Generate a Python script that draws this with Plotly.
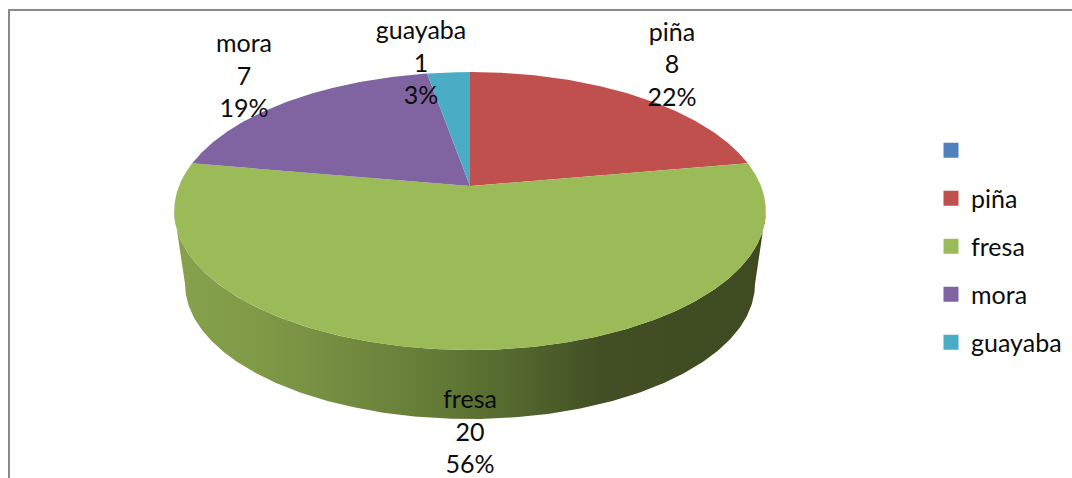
import numpy as np
import plotly.graph_objects as go

# --- data ---
categories = ["", "piña", "fresa", "mora", "guayaba"]
values = [0, 8, 20, 7, 1]
colors = ["#4f81bd", "#c0504d", "#9bbb59", "#8064a2", "#4bacc6"]

# --- geometry of the tilted disc, in the pixel-sized axes below ---
W, H = 1072, 478
CX, CY = 470, 186      # apex
SX, SY, K = 291, 134.5, 0.18   # perspective of the top disc
BOT_CX, BOT_CY, BOT_RX, BOT_RY = 470, 284, 285, 135  # lower rim of the wall
WALL_STOPS = [(0.0, "#87a24c"), (0.15, "#7f9947"), (0.3, "#728a3f"), (0.45, "#627a36"),
              (0.6, "#50642c"), (0.72, "#424f24"), (1.0, "#3e4a20")]
FONT = "Lato"
FS = 25
INK = "#0c0c0c"
LABEL_POS = {"piña": (672, 67), "fresa": (470, 434.5), "mora": (244, 78.5), "guayaba": (421, 65.5)}


def rim(theta):
    """Project a clockwise-from-top angle on the disc to the axes."""
    X, Y = np.sin(theta), np.cos(theta)
    d = 1 + K * Y
    return CX + SX * X / d, CY - SY * Y / d


total = sum(values)
fig = go.Figure()

# wall: front half of the top rim (right to left), closed along the lower rim (left to right)
th = np.linspace(0, 2 * np.pi, 721)
tx, ty = rim(th)
front = ty >= CY + 25
order = np.argsort(-tx[front])
fx, fy = tx[front][order], ty[front][order]
phi = np.linspace(0, np.pi, 241)
bx = BOT_CX - BOT_RX * np.cos(phi)
by = BOT_CY + BOT_RY * np.sin(phi)
wx = np.concatenate([fx, bx, fx[:1]])
wy = np.concatenate([fy, by, fy[:1]])
fig.add_trace(go.Scatter(
    x=wx, y=wy, mode="lines", fill="toself", line=dict(width=0), showlegend=False, hoverinfo="skip",
    fillcolor="#5f7634",
    fillgradient=dict(type="horizontal", colorscale=WALL_STOPS),
))

# top slices, clockwise from 12 o'clock
start = 0.0
for name, v, c in zip(categories, values, colors):
    sweep = 2 * np.pi * v / total
    if v > 0:
        t = np.linspace(start, start + sweep, max(4, int(v * 30)))
        rx, ry = rim(t)
        fig.add_trace(go.Scatter(
            x=np.concatenate([[CX], rx, [CX]]), y=np.concatenate([[CY], ry, [CY]]),
            mode="lines", fill="toself", fillcolor=c, line=dict(width=0),
            name=name, legendgroup=name or "blank", showlegend=False, hoverinfo="name",
        ))
    start += sweep

# legend entries
for name, c in zip(categories, colors):
    fig.add_trace(go.Scatter(
        x=[None], y=[None], mode="markers", name=name or " ",
        legendgroup=name or "blank",
        marker=dict(symbol="square", size=15, color=c, line=dict(width=0)),
    ))

# data labels
for name, v in zip(categories, values):
    if v > 0:
        lx, ly = LABEL_POS[name]
        fig.add_trace(go.Scatter(
            x=[lx], y=[ly], mode="text", showlegend=False, hoverinfo="skip",
            text=[f"{name}<br>{v}<br>{round(100 * v / total)}%"],
            textposition="middle center",
            textfont=dict(family=FONT, size=FS, color=INK),
        ))

fig.update_layout(
    width=W, height=H, autosize=False,
    margin=dict(l=0, r=0, t=0, b=0),
    paper_bgcolor="white", plot_bgcolor="white",
    xaxis=dict(range=[0, W], visible=False, fixedrange=True),
    yaxis=dict(range=[H, 0], visible=False, fixedrange=True),
    font=dict(family=FONT, size=FS, color=INK),
    legend=dict(
        x=931 / W, y=1 - 127.5 / H, xanchor="left", yanchor="top",
        bgcolor="rgba(0,0,0,0)", tracegroupgap=12.5, itemclick=False, itemdoubleclick=False,
        font=dict(family=FONT, size=FS, color=INK),
    ),
    shapes=[
        dict(type="line", xref="x", yref="y", x0=9, x1=9, y0=9, y1=H, line=dict(color="#8a8a8a", width=2)),
        dict(type="line", xref="x", yref="y", x0=8, x1=W, y0=10, y1=10, line=dict(color="#8a8a8a", width=2)),
    ],
)
fig.write_html("out.html", config=dict(displayModeBar=False),
               post_script="document.body.style.margin='0';document.body.style.overflow='hidden';")
